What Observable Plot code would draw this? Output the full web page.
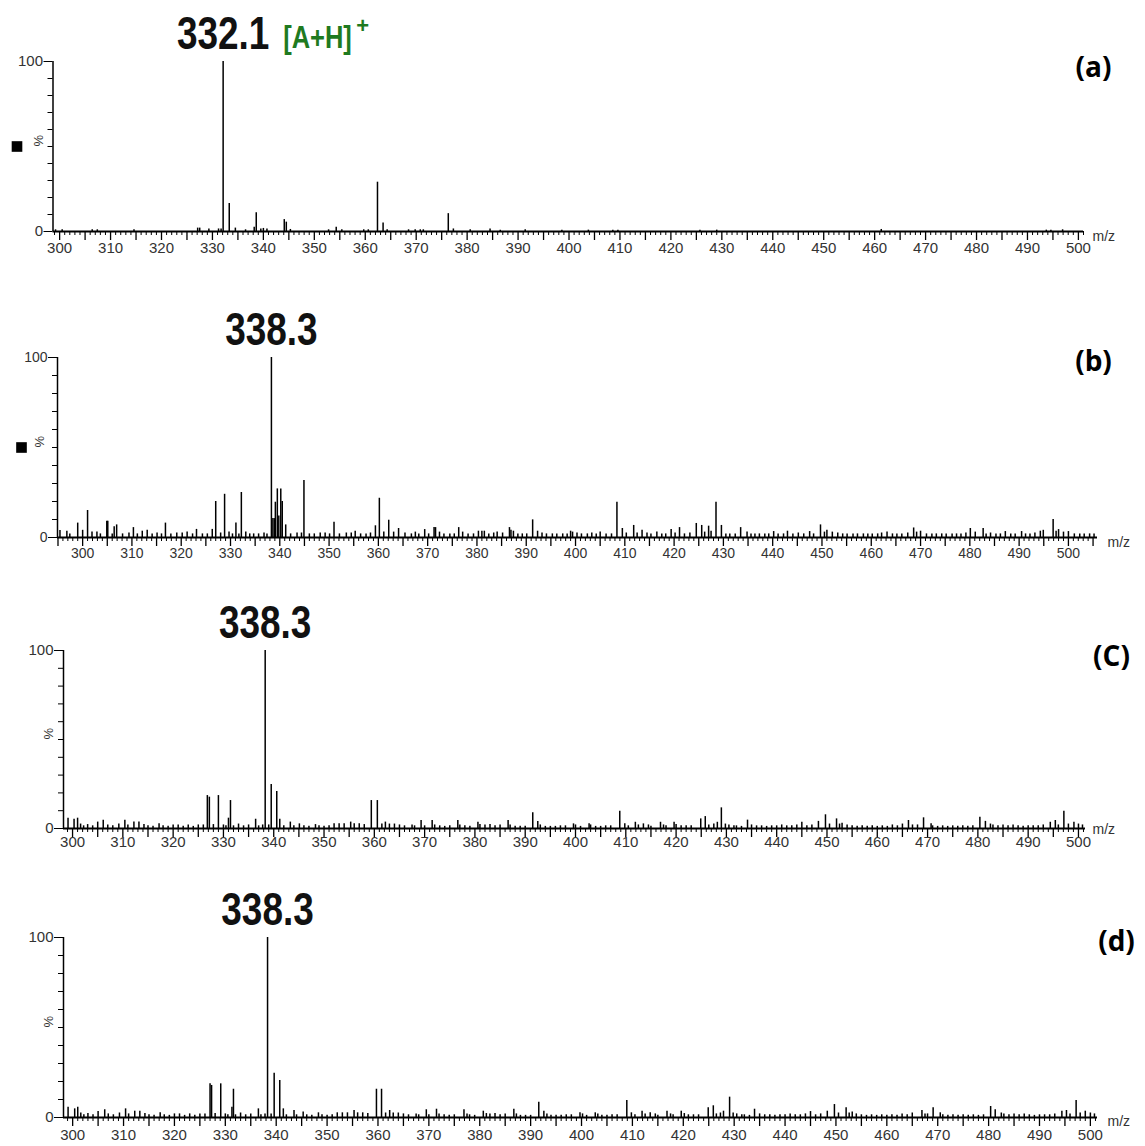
<!DOCTYPE html>
<html><head><meta charset="utf-8">
<script src="https://cdn.jsdelivr.net/npm/d3@7"></script>
<script src="https://cdn.jsdelivr.net/npm/@observablehq/plot@0.6"></script>
<style>
body{margin:0;background:#fff;}
#wrap{position:relative;width:1145px;height:1146px;overflow:hidden;background:#fff;}
.panel{position:absolute;left:0;}
.panel svg{overflow:visible;}
</style></head><body><div id="wrap"></div>
<script>
// ---- data: [m/z, relative intensity %] ----
const peaksA = [[299.2,1],[300.5,1],[306.4,1],[307.4,1],[314.6,1],[327.1,2],[327.5,2],[329.3,1.5],[331.2,1.5],[331.7,1.5],[332.1,100],[333.3,16.5],[334.5,2],[336.5,1],[338.2,2.5],[338.6,11],[339.5,1.5],[340,1.8],[340.7,1.5],[344.1,7],[344.5,5.5],[345.3,1.2],[352.8,1],[354.3,2.5],[355.4,1],[359.7,1],[360.6,1],[362.4,29],[363.5,5],[364.3,1],[368.5,1],[369.8,1],[370.8,1],[371.4,1],[376.3,10.5],[377.3,1.5],[380.6,1],[384.5,1.5],[386.5,0.8],[391.4,1],[398.6,0.8],[403.8,0.8],[408.6,0.8],[409.6,0.8],[425.7,0.8],[429,0.8],[461.3,1.2],[493.7,0.8],[494.6,0.8],[496.9,1]];

const peaksB = [[295.4,3.9],[296.8,3.5],[297.4,2],[299,8],[300,4],[301,15],[301.9,3],[302.9,3],[303.6,2],[304.9,9],[305.1,9],[306,2],[306.4,6],[306.9,7],[308.1,2],[309.4,2.5],[310.3,5.5],[311.1,2],[312.1,3.5],[313.1,4],[314.1,2],[315.1,2.5],[316,2],[316.8,8],[317.9,2],[319.1,2.5],[320.2,2.5],[321.2,3],[322.3,2],[323.1,4.5],[324.3,2],[325.3,2],[326.3,4.5],[327,20],[328,2.5],[328.8,24],[329.7,3],[330.4,2],[331.1,8],[331.7,2],[332.2,25],[333.1,3],[333.9,2],[334.7,2],[335.7,2],[336.8,2.5],[337.4,2],[338.3,100],[338.6,10.5],[338.9,10.5],[339.1,19.6],[339.5,27],[339.8,12],[340.2,27],[340.5,20],[341.2,7],[342.2,2],[343.5,2.5],[344.4,2.5],[344.9,31.7],[346,2],[347,2],[348.2,2.5],[349.2,2.5],[350.1,2],[351,8.5],[352.1,2],[353.5,2.5],[354.5,2.5],[355.3,3.5],[356.4,2],[357.5,2],[358.4,2.5],[359.4,6.5],[360.2,21.8],[361.1,3],[362.1,9.6],[363.1,3],[364.1,5],[365.4,2.5],[366.7,2],[367.5,3],[368.2,2],[369.4,4.4],[370.2,2],[371.3,5.5],[371.6,5.5],[372.4,3],[373.3,2],[374.5,2],[375.4,2],[376.3,5.5],[377.1,3],[378.2,2],[379.3,2],[380.3,3.5],[381,3.5],[381.5,3.5],[382.4,2],[383.4,2.5],[384.1,3],[385.2,2.5],[386.6,5.5],[386.9,4],[387.4,3.5],[388.3,2],[389.2,2],[390.1,2],[391.3,9.8],[392.3,3.5],[393.2,2.5],[394.1,2],[395.3,2],[396.2,2],[397.4,2],[398.3,2],[399,3.5],[399.4,3],[400.3,2.5],[401.2,2],[402.4,2],[403.3,2.5],[404.2,2],[405,3],[406.2,2],[407.3,2],[408.4,19.6],[409.5,5],[410.3,2.5],[411.8,6.7],[412.5,2.5],[413.5,4],[414.5,2.5],[415.3,2],[416.5,3],[417.5,2],[418.3,2],[419.4,4.4],[420.2,2.5],[421.1,5.5],[422.1,2],[423.2,2.5],[424.5,7.8],[425.6,6.7],[426.2,3],[427,6.3],[427.5,3.5],[428.5,19.6],[429.6,6.7],[430.5,2],[431.3,2],[432.4,2],[433.5,5.5],[434.8,3],[435.6,2],[436.4,2],[437.3,2],[438.4,2],[439.2,2],[440.2,3.3],[441.1,2],[442.2,2],[443,3.5],[444.1,2],[445.2,2.5],[446.3,2],[447.5,3.3],[448.3,2],[449.7,7],[450.5,3],[451,4],[452.1,3],[453.2,2.5],[454.2,2],[455.1,2],[456.3,2],[457.2,2],[458.4,2],[459.3,2],[460.2,2],[461.3,2],[462.1,2.5],[463.2,3],[464.3,2],[465.2,2],[466.2,2],[467.4,2.5],[468.6,5.3],[469.2,3],[470,3.5],[471.2,2],[472.3,2],[473.2,2],[474.3,2],[475.2,2],[476.4,2],[477.3,2],[478.2,2],[479.2,2.5],[480.1,5],[481.1,3],[482.7,5],[483.3,2],[484.2,2.5],[485.3,2],[486.2,2],[487.2,3.3],[488.3,2],[489.2,2],[490.5,3.3],[491.3,2],[492.2,2],[493.2,2.5],[494.3,3.5],[494.9,4],[496.9,10],[497.5,3.5],[498,4.4],[499,3],[500,3.3],[501.2,2],[502.3,2],[503.2,2],[504.3,2],[505.2,2]];

const peaksC = [[299.1,5.8],[300.3,5.2],[301,5.8],[301.6,2.5],[302.2,1.5],[303,2.2],[304,1.5],[305,3.6],[306.1,4.7],[307,2],[308,1.5],[309.2,2.5],[310.4,4.7],[311,2],[312.2,3.6],[313.2,3.6],[314.2,2.2],[315,1.5],[316,1.2],[317.2,2.6],[318,1.5],[319,1.2],[320,2],[321,2],[322,1.2],[323,2],[324,1.2],[325,2],[326,2],[326.8,18.5],[327.2,17.6],[328,2.2],[329,18.5],[330,2],[330.5,1.5],[331,5.8],[331.4,15.7],[332,1.5],[333,2.5],[334,1.5],[335,2],[336.4,5.2],[337,1.5],[337.8,2],[338.3,100],[339,2],[339.5,24.7],[340.6,20.8],[341.2,5.2],[342,1.5],[343.3,3.6],[344,1.5],[345.1,2.6],[346,1.5],[347,1.2],[348.3,2.2],[349,1.5],[350,1.2],[351,1.5],[352,2.6],[353,2.6],[354,2.6],[355.3,3.6],[356,2.6],[357,2.6],[358,2.2],[359.4,15.7],[360.6,15.7],[361.5,2.5],[362.2,3.6],[363,2.5],[364,2.5],[365,2],[366,1.5],[367.5,2],[368,1.5],[369.3,4.5],[370,1.5],[371.5,4.5],[372,2],[373,1.5],[374,1.2],[375,1.5],[376.6,4.5],[377,2],[378,1.5],[379,1.2],[380.6,3.5],[381,2.2],[382,2],[383,2.2],[384,1.5],[385,2],[386.6,4.5],[387,2],[388,1.2],[389,1.2],[390,1.2],[391.5,8.8],[392.5,3.9],[393,2],[394,1.2],[395,1.2],[396,1.2],[397,1.5],[398,1.5],[399.6,2.6],[400,2],[401,1.2],[402.7,2.6],[403,2],[404,1.2],[405,1.2],[406,1.5],[407,1.5],[408.8,9.7],[409.8,2.6],[410.5,1.5],[411.9,3.5],[412.5,2],[413.5,2.6],[414.5,2],[415,1.2],[416.9,3.5],[417.5,2],[418,1.5],[419.6,3.5],[420,2.2],[421,1.5],[422,1.5],[423,1.5],[424.9,5.4],[425.8,6.7],[426.5,2],[427.5,2.5],[428.2,3.5],[429,11.6],[429.8,2.5],[430.5,2],[431.5,1.5],[432,1.5],[433,1.2],[434.2,4.7],[435,2],[436,1.5],[437,1.5],[438,1.2],[439,1.5],[440,1.5],[441,2],[442,1.5],[443,1.5],[444,2],[445,3.5],[446,1.5],[447,2],[448.3,4],[449.7,7.7],[450.5,2.5],[451.9,5.4],[452.5,2.5],[453,3],[454,2],[455,1.5],[456,1.2],[457,1.5],[458,1.2],[459,1.5],[460,1.2],[461,1.5],[462,1.2],[463,2],[464,1.5],[465,2.5],[466.2,4.5],[467,2],[468,2],[469.2,6],[470.7,2.6],[471,1.5],[472,1.2],[473,1.5],[474,1.2],[475,1.5],[476,1.2],[477,1.5],[478,1.2],[479,1.5],[480.4,6.3],[481.5,4],[482.5,2.5],[483,2],[484,1.5],[485,2],[486,1.5],[487,2],[488,1.5],[489,1.2],[490,1.5],[491,1.5],[492,1.5],[493,2],[494.4,3.5],[495.4,4.5],[496,2],[497.1,9.7],[498,2.5],[499.1,3.5],[500,2.5],[500.8,2]];

const peaksD = [[299.1,5.7],[300.4,4.8],[301,5.7],[301.6,2.5],[302.2,1.5],[303,2.2],[304,1.5],[305,3.3],[306.3,4.3],[307,2],[308,1.5],[309.2,2.5],[310.4,4.8],[311,2],[312.2,3.5],[313.2,3.5],[314.2,2.2],[315,1.5],[316,1.2],[317.2,2.6],[318,1.5],[319,1.2],[320,2],[321,2],[322,1.2],[323,2],[324,1.2],[325,2],[326,2],[327,18.7],[327.3,17.8],[328,2.2],[329.1,18.7],[330,2],[330.5,1.5],[331.3,5.7],[331.6,15.7],[332,1.5],[333,2.5],[334,1.5],[335,2],[336.5,4.8],[337,1.5],[337.8,2],[338.3,100],[339,2],[339.6,24.6],[340.7,20.5],[341.4,4.8],[342,1.5],[343.5,3.9],[344,1.5],[345.3,3],[346,1.5],[347,1.2],[348.3,2.6],[349,1.5],[350,1.2],[351,1.5],[352,2.6],[353,2.6],[354,2.6],[355.3,3.9],[356,2.6],[357,2.6],[358,2.2],[359.7,15.7],[360.7,15.7],[361.5,2.5],[362.3,3.9],[363,2.5],[364,2.5],[365,2],[366,1.5],[367.5,2],[368,1.5],[369.5,4.3],[370,1.5],[371.5,4.6],[372,2],[373,1.5],[374,1.2],[375,1.5],[376.9,4.3],[377.5,2],[378,1.5],[379,1.2],[380.7,3.5],[381.3,2.2],[382,2],[383,2.2],[384,1.5],[385,2],[386.7,4.6],[387.2,2],[388,1.2],[389,1.2],[390,1.2],[391.6,8.5],[392.6,3.5],[393.2,2],[394,1.2],[395,1.2],[396,1.2],[397,1.5],[398,1.5],[399.7,2.6],[400.2,2],[401,1.2],[402.7,2.6],[403.2,2],[404,1.2],[405,1.2],[406,1.5],[407,1.5],[408.9,9.4],[409.8,2.6],[410.5,1.5],[411.9,3.5],[412.5,2],[413.5,2.6],[414.5,2],[415,1.2],[416.8,3.5],[417.5,2],[418,1.5],[419.6,3.5],[420.2,2.2],[421,1.5],[422,1.5],[423,1.5],[424.9,5.4],[425.9,6.5],[426.5,2],[427.3,2.5],[427.9,3.5],[429.1,11.3],[429.8,2.5],[430.5,2],[431.5,1.5],[432,1.5],[433,1.2],[434,4.6],[435,2],[436,1.5],[437,1.5],[438,1.2],[439,1.5],[440,1.5],[441,2],[442,1.5],[443,1.5],[444,2],[445,3.3],[446,1.5],[447,2],[448.3,3.5],[449.7,7.2],[450.5,2.5],[452,5.4],[452.6,2.5],[453.2,3],[454,2],[455,1.5],[456,1.2],[457,1.5],[458,1.2],[459,1.5],[460,1.2],[461,1.5],[462,1.2],[463,2],[464,1.5],[465,2.5],[466.9,3.9],[467.5,2],[468,2],[469.1,5.4],[470.5,2.6],[471,1.5],[472,1.2],[473,1.5],[474,1.2],[475,1.5],[476,1.2],[477,1.5],[478,1.2],[479,1.5],[480.4,6.1],[481.3,4.3],[482.5,2.5],[483,2],[484,1.5],[485,2],[486,1.5],[487,2],[488,1.5],[489,1.2],[490,1.5],[491,1.5],[492,1.5],[493,2],[494.4,3.5],[495.3,3.9],[496,2],[497.2,9.4],[498,2.5],[499,3.5],[500,2.5],[500.8,2]];

// ---- labels ----
const baseLabels = ["332.1", "338.3", "338.3", "338.3"];
const panelLabels = ["(a)", "(b)", "(C)", "(d)"];
const adductLabel = "[A+H]";
const xTickLabels = [300,310,320,330,340,350,360,370,380,390,400,410,420,430,440,450,460,470,480,490,500];
const yTickLabels = [0, 100];

const panels = [
  {data: peaksA, top: 0,   mt: 61, ph: 170, mb: 40, domain: [298.7, 501], x0: 52.5, x1: 1083, fs: 15, pad: 2, lab: [10, 7], mz: [9, 5], square: true, pct: -14},
  {data: peaksB, top: 290, mt: 67, ph: 180, mb: 40, domain: [294.9, 505.9], x0: 57, x1: 1097, fs: 14, pad: 2, lab: [-4, 5], mz: [10, 5], square: true, pct: -18},
  {data: peaksC, top: 580, mt: 70, ph: 178, mb: 35, domain: [298.2, 501.4], x0: 63, x1: 1085, fs: 15, pad: -1, lab: [26, 7], mz: [7, 1], square: false, pct: -15},
  {data: peaksD, top: 865, mt: 72, ph: 180, mb: 29, domain: [298.2, 501.4], x0: 63, x1: 1097, fs: 15, pad: 3, lab: [19, 5], mz: [10, 4], square: false, pct: -15}
];

const wrap = document.getElementById("wrap");
const narrow = "'Liberation Sans Narrow','Arial Narrow','Liberation Sans',Arial,sans-serif";

panels.forEach((p, i) => {
  const lo = Math.ceil(p.domain[0]), hi = Math.floor(p.domain[1]);
  const minor = d3.range(lo, hi + 1).filter(v => v % 5 !== 0);
  const major = d3.range(lo, hi + 1).filter(v => v % 5 === 0 && v % 10 !== 0);
  const labelled = xTickLabels.filter(v => v >= p.domain[0] && v <= p.domain[1]);
  const top = p.data.reduce((a, b) => b[1] > a[1] ? b : a);
  const marks = [
    Plot.ruleX(p.data, {x: d => d[0], y1: 0, y2: d => d[1], stroke: "#000", strokeWidth: 1.5}),
    Plot.ruleY([0], {stroke: "#000", strokeWidth: 2}),
    Plot.ruleX([p.domain[0]], {y1: 0, y2: 100, stroke: "#000", strokeWidth: 1.5}),
    Plot.axisX({ticks: minor, tickSize: 4, tickFormat: () => "", stroke: "#000"}),
    Plot.axisX({ticks: major, tickSize: 9, tickFormat: () => "", stroke: "#000", strokeWidth: 1.3}),
    Plot.axisX({ticks: labelled, tickSize: 9, tickPadding: p.pad, stroke: "#000", strokeWidth: 1.3, fill: "#333", fontSize: p.fs, fontFamily: "'Liberation Sans',Arial,sans-serif", tickFormat: d => String(d)}),
    Plot.axisY({ticks: d3.range(10, 100, 10), tickSize: 5, tickFormat: () => "", stroke: "#000"}),
    Plot.axisY({ticks: yTickLabels, tickSize: 9, tickPadding: 1, stroke: "#000", fill: "#333", fontSize: p.fs, fontFamily: "'Liberation Sans',Arial,sans-serif", tickFormat: d => String(d)}),
    Plot.text(["%"], {frameAnchor: "left", y: () => 50, dx: p.pct, rotate: -90, fontSize: 13, fill: "#333", fontFamily: "'Liberation Sans',Arial,sans-serif"}),
    Plot.text([baseLabels[i]], {x: () => top[0], y: () => 100, dy: -13, lineAnchor: "bottom", textAnchor: "middle", fontSize: 42, fontWeight: "bold", fontFamily: narrow, fill: "#111"}),
    Plot.text([panelLabels[i]], {frameAnchor: "top-right", dx: p.lab[0], dy: p.lab[1], textAnchor: "middle", lineAnchor: "middle", fontSize: 28, fontWeight: "bold", fontFamily: "'Open Sans',Lato,sans-serif", fill: "#000"}),
    Plot.text(["m/z"], {frameAnchor: "bottom-right", dx: p.mz[0], dy: p.mz[1], textAnchor: "start", lineAnchor: "middle", fontSize: 14, fill: "#333", fontFamily: "'Liberation Sans',Arial,sans-serif"})
  ];
  if (i === 0) {
    marks.push(Plot.text([adductLabel], {x: () => top[0], y: () => 100, dx: 60, dy: -14, lineAnchor: "bottom", textAnchor: "start", fontSize: 29, fontWeight: "bold", fontFamily: narrow, fill: "#1f7a1f"}));
    marks.push(Plot.text(["+"], {x: () => top[0], y: () => 100, dx: 133, dy: -29, lineAnchor: "bottom", textAnchor: "start", fontSize: 22, fontWeight: "bold", fontFamily: narrow, fill: "#1f7a1f"}));
  }
  if (p.square) {
    marks.push(Plot.dot([0], {frameAnchor: "left", y: () => 50, dx: -36, symbol: "square", r: 6, fill: "#000", stroke: "none"}));
  }
  const chart = Plot.plot({
    width: 1145,
    height: p.mt + p.ph + p.mb,
    marginTop: p.mt,
    marginBottom: p.mb,
    marginLeft: p.x0,
    marginRight: 1145 - p.x1,
    x: {domain: p.domain, axis: null},
    y: {domain: [0, 100], axis: null},
    style: {background: "transparent", overflow: "visible"},
    marks
  });
  // condense the large peak labels (no condensed face is installed)
  d3.select(chart).selectAll("g[font-size='42'] text, g[font-size='29'] text").each(function () {
    const t = this.getAttribute("transform") || "";
    const x = this.getAttribute("x"), y = this.getAttribute("y");
    if (t) this.setAttribute("transform", t + " scale(0.88,1.08)");
    else this.setAttribute("transform", `translate(${x || 0},${y || 0}) scale(0.88,1.08) translate(${-(x || 0)},${-(y || 0)})`);
  });
  const div = document.createElement("div");
  div.className = "panel";
  div.style.top = p.top + "px";
  div.appendChild(chart);
  wrap.appendChild(div);
});
</script>
</body></html>
